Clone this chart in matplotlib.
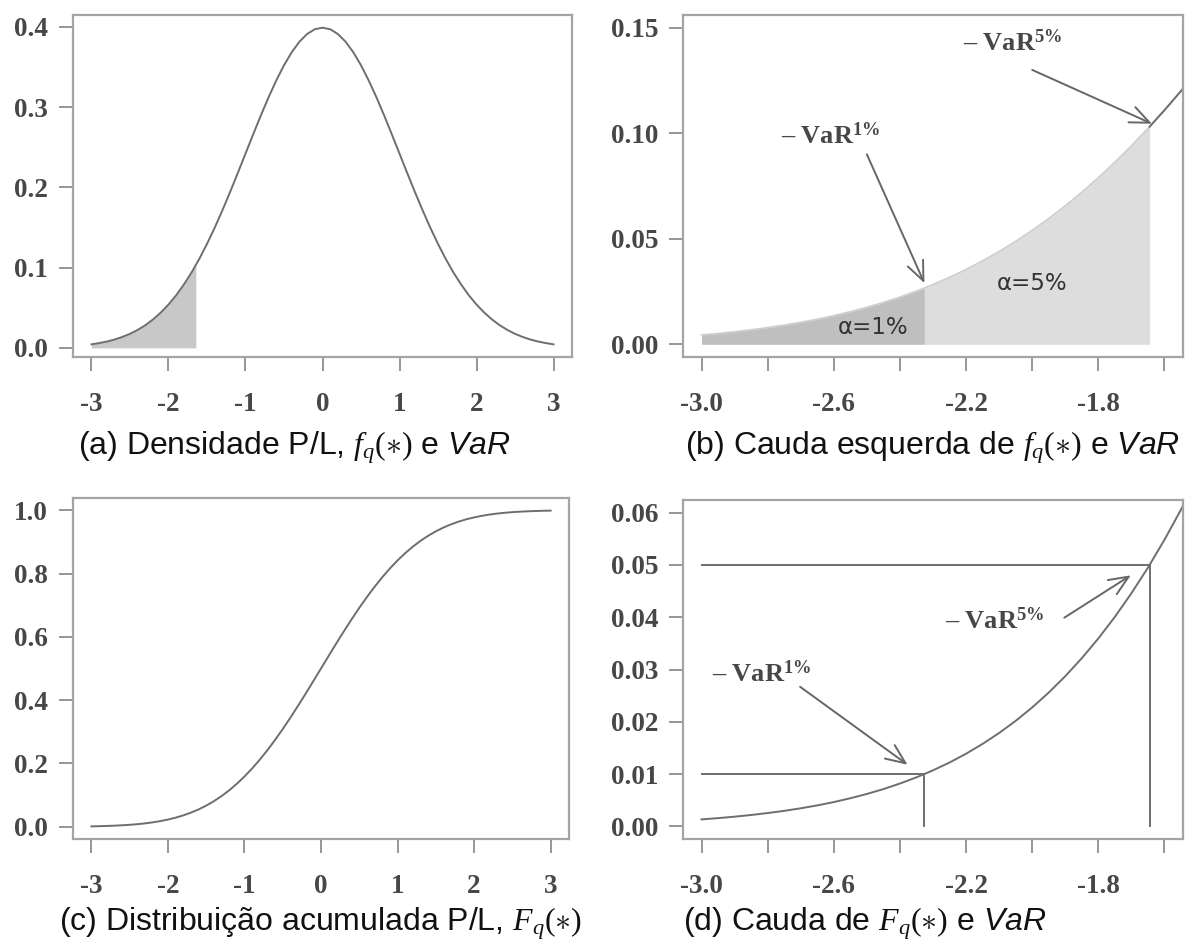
import numpy as np
import matplotlib
matplotlib.use("Agg")
import matplotlib.pyplot as plt

plt.rcParams['font.family'] = ['Liberation Serif', 'DejaVu Serif']
plt.rcParams['mathtext.fontset'] = 'custom'
plt.rcParams['mathtext.rm'] = 'Liberation Serif'
plt.rcParams['mathtext.it'] = 'Liberation Serif:italic'
plt.rcParams['mathtext.bf'] = 'Liberation Serif:bold'
plt.rcParams['mathtext.sf'] = 'Liberation Sans:italic'

# standard normal P/L, full range (step 0.1)
x_full = [-3.0, -2.9, -2.8, -2.7, -2.6, -2.5, -2.4, -2.3, -2.2, -2.1,
          -2.0, -1.9, -1.8, -1.7, -1.6, -1.5, -1.4, -1.3, -1.2, -1.1,
          -1.0, -0.9, -0.8, -0.7, -0.6, -0.5, -0.4, -0.3, -0.2, -0.1,
          0.0, 0.1, 0.2, 0.3, 0.4, 0.5, 0.6, 0.7, 0.8, 0.9,
          1.0, 1.1, 1.2, 1.3, 1.4, 1.5, 1.6, 1.7, 1.8, 1.9,
          2.0, 2.1, 2.2, 2.3, 2.4, 2.5, 2.6, 2.7, 2.8, 2.9, 3.0]
pdf_full = [0.0044, 0.0060, 0.0079, 0.0104, 0.0136, 0.0175, 0.0224, 0.0283, 0.0355, 0.0440,
            0.0540, 0.0656, 0.0790, 0.0940, 0.1109, 0.1295, 0.1497, 0.1714, 0.1942, 0.2179,
            0.2420, 0.2661, 0.2897, 0.3123, 0.3332, 0.3521, 0.3683, 0.3814, 0.3910, 0.3970,
            0.3989, 0.3970, 0.3910, 0.3814, 0.3683, 0.3521, 0.3332, 0.3123, 0.2897, 0.2661,
            0.2420, 0.2179, 0.1942, 0.1714, 0.1497, 0.1295, 0.1109, 0.0940, 0.0790, 0.0656,
            0.0540, 0.0440, 0.0355, 0.0283, 0.0224, 0.0175, 0.0136, 0.0104, 0.0079, 0.0060, 0.0044]
cdf_full = [0.0013, 0.0019, 0.0026, 0.0035, 0.0047, 0.0062, 0.0082, 0.0107, 0.0139, 0.0179,
            0.0228, 0.0287, 0.0359, 0.0446, 0.0548, 0.0668, 0.0808, 0.0968, 0.1151, 0.1357,
            0.1587, 0.1841, 0.2119, 0.2420, 0.2743, 0.3085, 0.3446, 0.3821, 0.4207, 0.4602,
            0.5000, 0.5398, 0.5793, 0.6179, 0.6554, 0.6915, 0.7257, 0.7580, 0.7881, 0.8159,
            0.8413, 0.8643, 0.8849, 0.9032, 0.9192, 0.9332, 0.9452, 0.9554, 0.9641, 0.9713,
            0.9772, 0.9821, 0.9861, 0.9893, 0.9918, 0.9938, 0.9953, 0.9965, 0.9974, 0.9981, 0.9987]

# left tail (step 0.05)
x_tail = [-3.00, -2.95, -2.90, -2.85, -2.80, -2.75, -2.70, -2.65, -2.60, -2.55,
          -2.50, -2.45, -2.40, -2.35, -2.30, -2.25, -2.20, -2.15, -2.10, -2.05,
          -2.00, -1.95, -1.90, -1.85, -1.80, -1.75, -1.70, -1.65, -1.60, -1.55, -1.50]
pdf_tail = [0.00443, 0.00514, 0.00595, 0.00687, 0.00792, 0.00909, 0.01042, 0.01191, 0.01358, 0.01545,
            0.01753, 0.01984, 0.02239, 0.02522, 0.02833, 0.03174, 0.03547, 0.03955, 0.04398, 0.04879,
            0.05399, 0.05959, 0.06562, 0.07206, 0.07895, 0.08628, 0.09405, 0.10226, 0.11092, 0.12001, 0.12952]
cdf_tail = [0.00135, 0.00159, 0.00187, 0.00219, 0.00256, 0.00298, 0.00347, 0.00402, 0.00466, 0.00539,
            0.00621, 0.00714, 0.00820, 0.00939, 0.01072, 0.01222, 0.01390, 0.01578, 0.01786, 0.02018,
            0.02275, 0.02559, 0.02872, 0.03216, 0.03593, 0.04006, 0.04457, 0.04947, 0.05480, 0.06057, 0.06681]

# VaR quantiles
var1_x, var1_pdf, var1_p = -2.326, 0.0267, 0.01
var5_x, var5_pdf, var5_p = -1.645, 0.1031, 0.05

captions = [r"(a) Densidade P/L, $f_q(\ast)$ e $\mathsf{VaR}$",
            r"(b) Cauda esquerda de $f_q(\ast)$ e $\mathsf{VaR}$",
            r"(c) Distribuição acumulada P/L, $F_q(\ast)$",
            r"(d) Cauda de $F_q(\ast)$ e $\mathsf{VaR}$"]

LINE = '#6e6e6e'
BOX = '#a4a4a4'
TXT = '#474747'

xt = np.array(x_tail)
pt = np.array(pdf_tail)


def seg(lo, hi, ylo, yhi):
    m = (xt > lo) & (xt < hi)
    xs = np.concatenate([[lo], xt[m], [hi]])
    ys = np.concatenate([[ylo], pt[m], [yhi]])
    return xs, ys


def style(ax, xlim, ylim, xticks, xlabels, yticks, ylabels):
    ax.set_xlim(*xlim)
    ax.set_ylim(*ylim)
    ax.set_xticks(xticks)
    ax.set_xticklabels(xlabels, fontweight='bold')
    ax.set_yticks(yticks)
    ax.set_yticklabels(ylabels, fontweight='bold')
    for s in ax.spines.values():
        s.set_color(BOX)
        s.set_linewidth(1.6)
    ax.tick_params(direction='out', length=10, width=1.3, color='#8e8e8e',
                   labelsize=19.5, labelcolor=TXT)
    ax.tick_params(axis='x', pad=15)
    ax.tick_params(axis='y', pad=8)


def var_label(ax, x, y, pct):
    ax.text(x, y, r"– VaR$^{\mathbf{" + pct + r"\%}}$", fontsize=19,
            fontweight='bold', color=TXT, ha='center', va='center')


fig = plt.figure(figsize=(11.92, 9.42), dpi=100)
W, H = 1192, 942
ax_a = fig.add_axes([73 / W, 1 - 357 / H, 499 / W, 342 / H])
ax_b = fig.add_axes([683 / W, 1 - 357 / H, 500 / W, 342 / H])
ax_c = fig.add_axes([73 / W, 1 - 839 / H, 496 / W, 341 / H])
ax_d = fig.add_axes([683 / W, 1 - 839 / H, 500 / W, 339 / H])

full_ticks = [-3, -2, -1, 0, 1, 2, 3]
full_labels = ['-3', '-2', '-1', '0', '1', '2', '3']
tail_ticks = [-3.0, -2.8, -2.6, -2.4, -2.2, -2.0, -1.8, -1.6]
tail_labels = ['-3.0', '', '-2.6', '', '-2.2', '', '-1.8', '']

# (a) density with shaded 5% tail
xs, ys = seg(-3.0, var5_x, pdf_tail[0], var5_pdf)
ax_a.fill_between(xs, 0, ys, color='#c8c8c8', lw=0)
ax_a.plot(x_full, pdf_full, color=LINE, lw=1.4)
style(ax_a, (-3.24, 3.24), (-0.01135, 0.41472), full_ticks, full_labels,
      [0, 0.1, 0.2, 0.3, 0.4], ['0.0', '0.1', '0.2', '0.3', '0.4'])

# (b) left tail of the density
xs1, ys1 = seg(-3.0, var1_x, pdf_tail[0], var1_pdf)
xs5, ys5 = seg(var1_x, var5_x, var1_pdf, var5_pdf)
ax_b.fill_between(xs1, 0, ys1, color='#bfbfbf', lw=0)
ax_b.fill_between(xs5, 0, ys5, color='#dddddd', lw=0)
ax_b.plot(x_tail, pdf_tail, color='#cdcdcd', lw=1.2)
xr, yr = seg(var5_x, -1.50, var5_pdf, pdf_tail[-1])
ax_b.plot(xr, yr, color=LINE, lw=1.4)
style(ax_b, (-3.056, -1.544), (-0.006, 0.156), tail_ticks, tail_labels,
      [0, 0.05, 0.10, 0.15], ['0.00', '0.05', '0.10', '0.15'])

arrow = dict(arrowstyle='->,head_length=0.7,head_width=0.3', color='#666666',
             lw=1.4, shrinkA=0, shrinkB=0, mutation_scale=20)
ax_b.annotate('', xy=(-1.638, 0.1045), xytext=(-2.0, 0.130), arrowprops=arrow)
ax_b.annotate('', xy=(-2.326, 0.0290), xytext=(-2.50, 0.090), arrowprops=arrow)
var_label(ax_b, -2.06, 0.1427, '5')
var_label(ax_b, -2.61, 0.099, '1')
ax_b.text(-2.48, 0.0082, "α=1%", family='DejaVu Sans', fontsize=16.5,
          color='#333333', ha='center', va='center')
ax_b.text(-2.0, 0.0286, "α=5%", family='DejaVu Sans', fontsize=16.5,
          color='#333333', ha='center', va='center')

# (c) cumulative distribution
ax_c.plot(x_full, cdf_full, color=LINE, lw=1.4)
style(ax_c, (-3.24, 3.24), (-0.0386, 1.0385), full_ticks, full_labels,
      [0, 0.2, 0.4, 0.6, 0.8, 1.0], ['0.0', '0.2', '0.4', '0.6', '0.8', '1.0'])

# (d) tail of the cumulative distribution
ax_d.plot(x_tail, cdf_tail, color=LINE, lw=1.4)
ax_d.plot([-3.0, var1_x], [var1_p, var1_p], color=LINE, lw=1.4)
ax_d.plot([var1_x, var1_x], [0, var1_p], color=LINE, lw=1.4)
ax_d.plot([-3.0, var5_x], [var5_p, var5_p], color=LINE, lw=1.4)
ax_d.plot([var5_x, var5_x], [0, var5_p], color=LINE, lw=1.4)
style(ax_d, (-3.056, -1.544), (-0.0024, 0.0624), tail_ticks, tail_labels,
      [0, 0.01, 0.02, 0.03, 0.04, 0.05, 0.06],
      ['0.00', '0.01', '0.02', '0.03', '0.04', '0.05', '0.06'])
ax_d.annotate('', xy=(-2.377, 0.0118), xytext=(-2.702, 0.0267), arrowprops=arrow)
ax_d.annotate('', xy=(-1.702, 0.0480), xytext=(-1.903, 0.0399), arrowprops=arrow)
var_label(ax_d, -2.818, 0.0293, '1')
var_label(ax_d, -2.112, 0.0394, '5')

# captions under each panel
cap_pos = [(78, 455), (685, 455), (59, 931), (683, 931)]
for (cx, cy), txt in zip(cap_pos, captions):
    fig.text(cx / W, 1 - cy / H, txt, family='Liberation Sans', fontsize=23,
             color='#111111', ha='left', va='baseline')

fig.savefig('out.png', dpi=100, facecolor='white')
